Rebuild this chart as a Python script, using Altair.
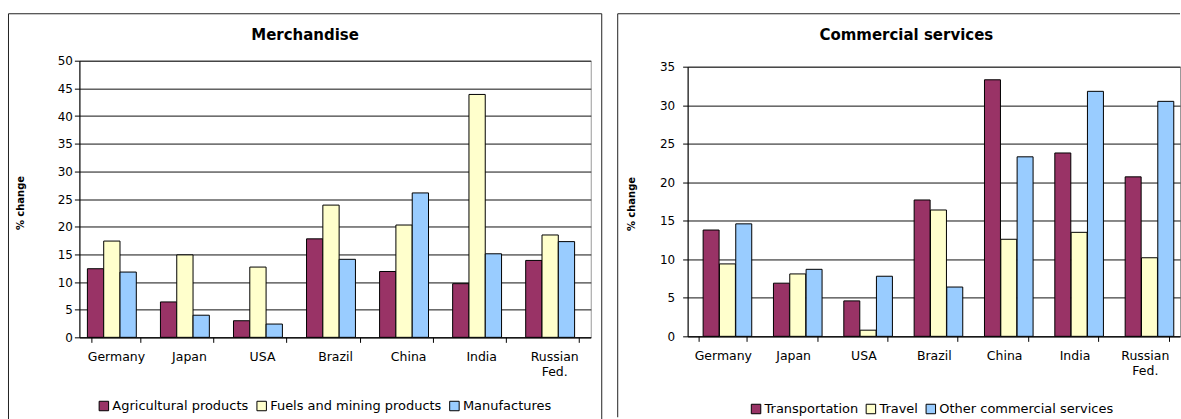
import altair as alt
import pandas as pd

countries = ["Germany", "Japan", "USA", "Brazil", "China", "India", "Russian Fed."]

merch_series = ["Agricultural products", "Fuels and mining products", "Manufactures"]
agri = [12.4, 6.4, 3.0, 17.8, 11.9, 9.7, 13.9]
fuels = [17.4, 14.9, 12.7, 23.9, 20.3, 43.9, 18.5]
manuf = [11.8, 4.0, 2.4, 14.1, 26.1, 15.1, 17.3]

serv_series = ["Transportation", "Travel", "Other commercial services"]
transport = [13.8, 6.9, 4.6, 17.7, 33.3, 23.8, 20.7]
travel = [9.4, 8.1, 0.8, 16.4, 12.6, 13.5, 10.2]
other = [14.6, 8.7, 7.8, 6.4, 23.3, 31.8, 30.5]

merch_ticks = [0, 5, 10, 15, 20, 25, 30, 35, 40, 45, 50]
serv_ticks = [0, 5, 10, 15, 20, 25, 30, 35]

colors = ["#993366", "#FFFFCC", "#99CCFF"]

FONT = "DejaVu Sans"


def long_df(series, cols):
    rows = []
    for s, vals in zip(series, cols):
        for c, v in zip(countries, vals):
            rows.append({"country": c, "series": s, "value": v})
    return pd.DataFrame(rows)


merch_df = long_df(merch_series, [agri, fuels, manuf])
serv_df = long_df(serv_series, [transport, travel, other])
one = pd.DataFrame({"k": [0]})


def panel(df, series, title, ticks, width, height, pad_inner, bar_w,
          title_x, title_y, ytitle_x, ytitle_y, label_pad,
          leg_x, leg_y, box_left, box_top, box_right, box_bottom, right_edge):
    bars = alt.Chart(df).mark_bar(stroke="#000000", strokeWidth=1, width=bar_w).encode(
        x=alt.X("country:N", sort=countries,
                scale=alt.Scale(paddingInner=pad_inner, paddingOuter=pad_inner / 2),
                axis=alt.Axis(title=None, tickBand="extent", tickSize=5, labelAngle=0,
                              labelPadding=8, labelFont=FONT, labelFontSize=12.5,
                              labelColor="black", domainColor="black", tickColor="black",
                              labelExpr="split(datum.label, ' ')", labelLineHeight=15,
                              grid=False, labelLimit=0)),
        xOffset=alt.XOffset("series:N", sort=series,
                            scale=alt.Scale(paddingInner=0, paddingOuter=0)),
        y=alt.Y("value:Q", scale=alt.Scale(domain=[ticks[0], ticks[-1]], nice=False),
                axis=alt.Axis(title="% change", values=ticks, tickSize=5,
                              labelPadding=label_pad, labelFont=FONT, labelFontSize=12,
                              labelColor="black", domainColor="black", tickColor="black",
                              gridColor="#111111", gridWidth=1,
                              titleFont=FONT, titleFontSize=10, titleFontWeight="bold",
                              titleColor="black", titleX=ytitle_x, titleY=ytitle_y)),
        color=alt.Color("series:N", sort=series,
                        scale=alt.Scale(domain=series, range=colors),
                        legend=alt.Legend(orient="none", legendX=leg_x, legendY=leg_y,
                                          direction="horizontal", title=None,
                                          symbolType="square", symbolSize=90,
                                          symbolStrokeColor="black", symbolStrokeWidth=1,
                                          labelFont=FONT, labelFontSize=13,
                                          labelColor="black", labelOffset=2,
                                          columnPadding=5, labelLimit=400)),
    ).properties(width=width, height=height)

    ttl = alt.Chart(one).mark_text(text=title, font=FONT, fontSize=15,
                                   fontWeight="bold", color="black").encode(
        x=alt.value(title_x), y=alt.value(title_y))

    edge = dict(color="#222222", strokeWidth=1)
    layers = [bars, ttl,
              alt.Chart(one).mark_rule(**edge).encode(
                  x=alt.value(box_left), y=alt.value(box_top), y2=alt.value(box_bottom)),
              alt.Chart(one).mark_rule(**edge).encode(
                  x=alt.value(box_left), x2=alt.value(box_right), y=alt.value(box_top))]
    if right_edge:
        layers.append(alt.Chart(one).mark_rule(**edge).encode(
            x=alt.value(box_right), y=alt.value(box_top), y2=alt.value(box_bottom)))
    return alt.layer(*layers)


left = panel(merch_df, merch_series, "Merchandise", merch_ticks, 512, 277, 0.33, 16.3,
             226, -26, -53.5, 142, 2, 18, 339, -71, -47, 523, 363, True)
right = panel(serv_df, serv_series, "Commercial services", serv_ticks, 493, 270, 0.32, 16,
              219, -32, -51.5, 137, 8, 62, 336, -70, -53, 493, 351, False)

chart = alt.hconcat(left, right, spacing=14, center=True).resolve_scale(
    color="independent", x="independent", y="independent"
).properties(
    padding={"left": 7.5, "top": 12.5, "right": 0, "bottom": 0},
    background="white",
).configure_view(stroke="#999999", strokeWidth=1)

chart.save("out.html", embed_options={"renderer": "svg", "actions": False})
